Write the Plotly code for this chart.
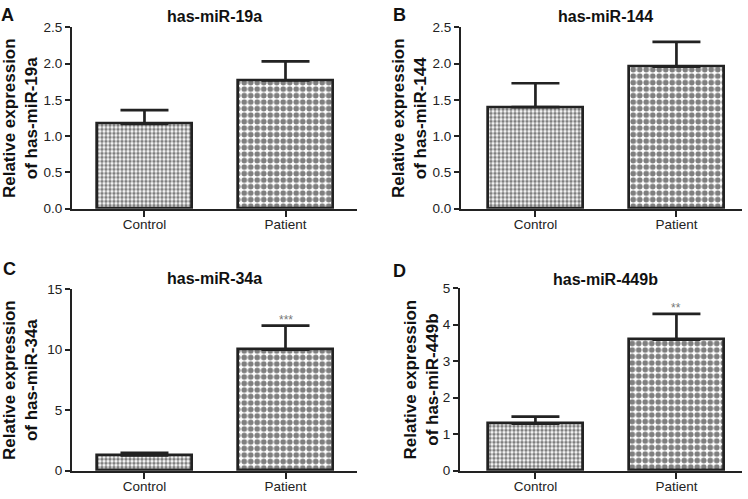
import plotly.graph_objects as go

W, H = 748, 499

panel_labels = ["A", "B", "C", "D"]
titles = ["has-miR-19a", "has-miR-144", "has-miR-34a", "has-miR-449b"]
categories = ["Control", "Patient"]

mean_19a = [1.17, 1.77]
err_19a = [0.19, 0.26]
mean_144 = [1.40, 1.96]
err_144 = [0.33, 0.34]
mean_34a = [1.26, 10.0]
err_34a = [0.21, 2.0]
mean_449b = [1.29, 3.59]
err_449b = [0.19, 0.71]

means = [mean_19a, mean_144, mean_34a, mean_449b]
errs = [err_19a, err_144, err_34a, err_449b]
stars = ["", "", "***", "**"]
y_ranges = [[0, 2.5], [0, 2.5], [0, 15], [0, 5]]
y_dticks = [0.5, 0.5, 5, 1]
y_formats = [".1f", ".1f", "d", "d"]

# layout geometry (pixels)
x_px = [(72, 357), (461, 742), (72, 357), (460, 742)]
y_px = [(21, 208), (21, 208), (291, 478), (290, 478)]
x_rng = [[-0.514, 1.507], [-0.528, 1.465], [-0.514, 1.507], [-0.535, 1.465]]
ytitle_x = [20, 409, 21, 421]
title_y = [10, 10, 280, 281]
label_pos = [(8, 8), (399, 8), (9, 270), (399, 272)]

FONT = "Liberation Sans, Arial, sans-serif"
INK = "#222222"

fig = go.Figure()
layout = dict(
    width=W, height=H, margin=dict(l=0, r=0, t=0, b=0),
    paper_bgcolor="white", plot_bgcolor="white",
    showlegend=False, bargap=0,
    font=dict(family=FONT, size=13.5, color=INK),
)
annotations = []

for i in range(4):
    n = "" if i == 0 else str(i + 1)
    xa, ya = "x" + n, "y" + n
    for j, cat in enumerate(categories):
        fig.add_trace(go.Bar(
            x=[cat], y=[means[i][j]],
            xaxis=xa, yaxis=ya, width=0.674,
            marker=dict(
                color="white",
                line=dict(color=INK, width=2.7),
                pattern=dict(shape=".", fgcolor="#000000", bgcolor="white",
                             size=4 if j == 0 else 6.5, solidity=0.6),
            ),
            error_y=dict(type="data", symmetric=False, array=[errs[i][j]],
                         arrayminus=[0], color=INK, thickness=2.7, width=24),
        ))
    x0, x1 = x_px[i]
    ytop, ybot = y_px[i]
    layout["xaxis" + n] = dict(
        domain=[x0 / W, x1 / W], anchor=ya, range=x_rng[i],
        type="category", categoryorder="array", categoryarray=categories,
        showline=True, linecolor=INK, linewidth=2, ticks="outside",
        ticklen=6, tickwidth=1.5, tickcolor=INK, showgrid=False,
        zeroline=False, tickfont=dict(size=13.5, color=INK), fixedrange=True,
        ticklabelstandoff=-4,
    )
    layout["yaxis" + n] = dict(
        domain=[1 - ybot / H, 1 - ytop / H], anchor=xa, range=y_ranges[i],
        dtick=y_dticks[i], tick0=0, tickformat=y_formats[i],
        showline=True, linecolor=INK, linewidth=2, ticks="outside",
        ticklen=5, tickwidth=1.5, tickcolor=INK, showgrid=False,
        zeroline=False, tickfont=dict(size=13.5, color=INK), fixedrange=True,
    )
    # panel title
    annotations.append(dict(
        text="<b>" + titles[i] + "</b>", xref=xa, x=0.5, yref="paper",
        y=1 - title_y[i] / H, xanchor="center", yanchor="middle",
        showarrow=False, font=dict(size=16, color="#111111"),
    ))
    # y-axis title
    annotations.append(dict(
        text="<b>Relative expression<br>of " + titles[i] + "</b>",
        xref="paper", x=ytitle_x[i] / W, yref=ya + " domain", y=0.5,
        xanchor="center", yanchor="middle", textangle=-90,
        showarrow=False, font=dict(size=17, color="#111111"),
    ))
    # panel label
    lx, ly = label_pos[i]
    annotations.append(dict(
        text="<b>" + panel_labels[i] + "</b>", xref="paper", x=lx / W,
        yref="paper", y=1 - ly / H, xanchor="center", yanchor="middle",
        showarrow=False, font=dict(size=18, color="#111111"),
    ))
    if stars[i]:
        annotations.append(dict(
            text=stars[i], xref=xa, x="Patient", yref=ya,
            y=means[i][1] + errs[i][1], xanchor="center", yanchor="bottom",
            yshift=-3, showarrow=False, font=dict(size=12, color="#777777"),
        ))

layout["annotations"] = annotations
fig.update_layout(**layout)
fig.write_html("out.html", post_script="document.body.style.margin='0';",
               config={"displayModeBar": False})
